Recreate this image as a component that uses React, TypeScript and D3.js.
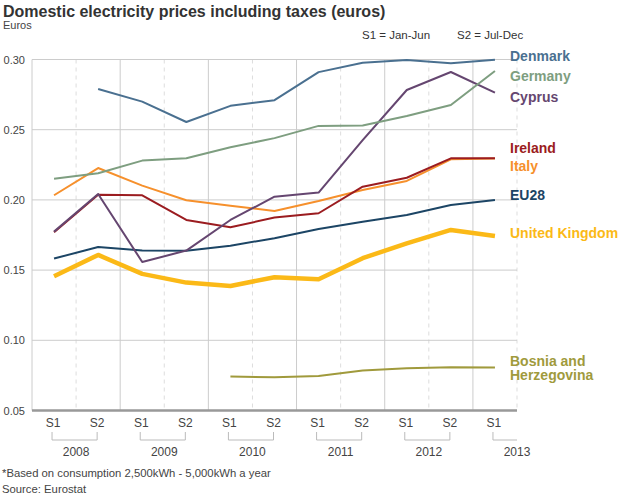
import React from "react";
import * as d3 from "d3";

const periods = ["2008S1","2008S2","2009S1","2009S2","2010S1","2010S2","2011S1","2011S2","2012S1","2012S2","2013S1"];
const periodLabels = ["S1","S2","S1","S2","S1","S2","S1","S2","S1","S2","S1"];
const years = ["2008","2009","2010","2011","2012","2013"];
const yTicks = [0.05, 0.10, 0.15, 0.20, 0.25, 0.30];

const denmark = [null, 0.279, 0.270, 0.2555, 0.267, 0.271, 0.291, 0.2977, 0.2996, 0.2973, 0.2999];
const germany = [0.215, 0.219, 0.228, 0.2296, 0.2375, 0.244, 0.2527, 0.253, 0.2598, 0.2676, 0.2918];
const cyprus = [0.1774, 0.2042, 0.1558, 0.1639, 0.1857, 0.2023, 0.2052, 0.2425, 0.2783, 0.2911, 0.2764];
const ireland = [0.177, 0.2037, 0.2033, 0.1857, 0.1805, 0.1874, 0.1905, 0.2094, 0.2158, 0.2296, 0.2296];
const italy = [0.2033, 0.2227, 0.2102, 0.1997, 0.1959, 0.1921, 0.1992, 0.2071, 0.2135, 0.2289, 0.2294];
const eu28 = [0.1582, 0.1665, 0.1639, 0.1637, 0.1674, 0.1727, 0.1793, 0.1845, 0.1893, 0.1964, 0.2000];
const uk = [0.1456, 0.1608, 0.1473, 0.1411, 0.1387, 0.1449, 0.1435, 0.1585, 0.1691, 0.1786, 0.1743];
const bosnia = [null, null, null, null, 0.0742, 0.0737, 0.0746, 0.0785, 0.0801, 0.0808, 0.0806];

type S = { name: string[]; values: (number | null)[]; color: string; width: number; labelY: number };

const series: S[] = [
  { name: ["Bosnia and", "Herzegovina"], values: bosnia, color: "#a09a3c", width: 2, labelY: 361 },
  { name: ["United Kingdom"], values: uk, color: "#fbb917", width: 4.5, labelY: 232.5 },
  { name: ["EU28"], values: eu28, color: "#1c4565", width: 2, labelY: 195 },
  { name: ["Italy"], values: italy, color: "#f6902c", width: 2, labelY: 165.5 },
  { name: ["Ireland"], values: ireland, color: "#9b1c20", width: 2, labelY: 147.5 },
  { name: ["Cyprus"], values: cyprus, color: "#654670", width: 2, labelY: 96.5 },
  { name: ["Germany"], values: germany, color: "#7e9e80", width: 2, labelY: 76 },
  { name: ["Denmark"], values: denmark, color: "#4a7090", width: 2, labelY: 56 },
];

const FONT = "'Liberation Sans', Arial, Helvetica, sans-serif";

export default function App() {
  const W = 624, H = 495;
  const x = d3.scaleBand<string>().domain(periods).range([32, 517]).padding(0);
  const bw = x.bandwidth();
  const cx = (p: string) => (x(p) as number) + bw / 2;
  const y = d3.scaleLinear().domain([0.05, 0.30]).range([410.5, 59.5]);

  const line = d3
    .line<number | null>()
    .defined((d) => d != null)
    .x((_, i) => cx(periods[i]))
    .y((d) => y(d as number));

  const boundaries = d3.range(periods.length + 1).map((i) => 32 + i * bw);

  return (
    <svg width={W} height={H} style={{ position: "absolute", left: 0, top: 0, fontFamily: FONT }}>
      <rect width={W} height={H} fill="#fff" />
      <text x={3} y={17} fontSize={16} fontWeight="bold" fill="#333">
        Domestic electricity prices including taxes (euros)
      </text>
      <text x={3} y={29} fontSize={11} fill="#444">Euros</text>
      <text x={362} y={39} fontSize={11.5} fill="#333">S1 = Jan-Jun</text>
      <text x={457} y={39} fontSize={11.5} fill="#333">S2 = Jul-Dec</text>

      {/* vertical grid */}
      {boundaries.map((bx, i) => (
        <line
          key={"v" + i}
          x1={bx}
          x2={bx}
          y1={y(0.30)}
          y2={y(0.05)}
          stroke={i % 2 === 0 ? "#cccccc" : "#dddddd"}
          strokeWidth={1}
          strokeDasharray={i % 2 === 0 ? undefined : "4,4"}
        />
      ))}
      {/* horizontal grid */}
      {yTicks.map((t) => (
        <g key={"h" + t}>
          {t > 0.05 && (
            <line x1={32} x2={517} y1={y(t)} y2={y(t)} stroke="#cccccc" strokeWidth={1} />
          )}
          <text x={25} y={y(t) + 4} fontSize={11} textAnchor="end" fill="#444">
            {t.toFixed(2)}
          </text>
        </g>
      ))}
      <line x1={32} x2={517} y1={y(0.05)} y2={y(0.05)} stroke="#999" strokeWidth={2.5} />

      {/* x labels */}
      {periods.map((p, i) => (
        <text key={"xl" + p} x={cx(p) - 1} y={427} fontSize={12} textAnchor="middle" fill="#444">
          {periodLabels[i]}
        </text>
      ))}
      {years.map((yr, i) => {
        const s1 = cx(periods[i * 2]) - 2;
        const hasS2 = i * 2 + 1 < periods.length;
        const s2 = hasS2 ? cx(periods[i * 2 + 1]) - 1 : 517;
        const mid = 32 + (i * 2 + 1) * bw;
        return (
          <g key={"yr" + yr}>
            <path
              d={`M${s1},432V440H${s2}${hasS2 ? "V432" : ""}`}
              fill="none"
              stroke="#bbb"
              strokeWidth={1}
            />
            <text x={mid} y={456} fontSize={12} textAnchor="middle" fill="#444">
              {yr}
            </text>
          </g>
        );
      })}

      {/* lines */}
      {series.map((s) => (
        <path
          key={s.name.join(" ")}
          d={line(s.values) || ""}
          fill="none"
          stroke={s.color}
          strokeWidth={s.width}
          strokeLinejoin="round"
        />
      ))}
      {series.map((s) => (
        <text key={"lab" + s.name.join(" ")} x={510} y={s.labelY + 5} fontSize={14} fontWeight="bold" fill={s.color}>
          {s.name.map((n, j) => (
            <tspan key={j} x={510} dy={j === 0 ? 0 : 14}>
              {n}
            </tspan>
          ))}
        </text>
      ))}

      <text x={2} y={477} fontSize={11.3} fill="#444">
        *Based on consumption 2,500kWh - 5,000kWh a year
      </text>
      <text x={2} y={493} fontSize={11.3} fill="#444">Source: Eurostat</text>
    </svg>
  );
}
